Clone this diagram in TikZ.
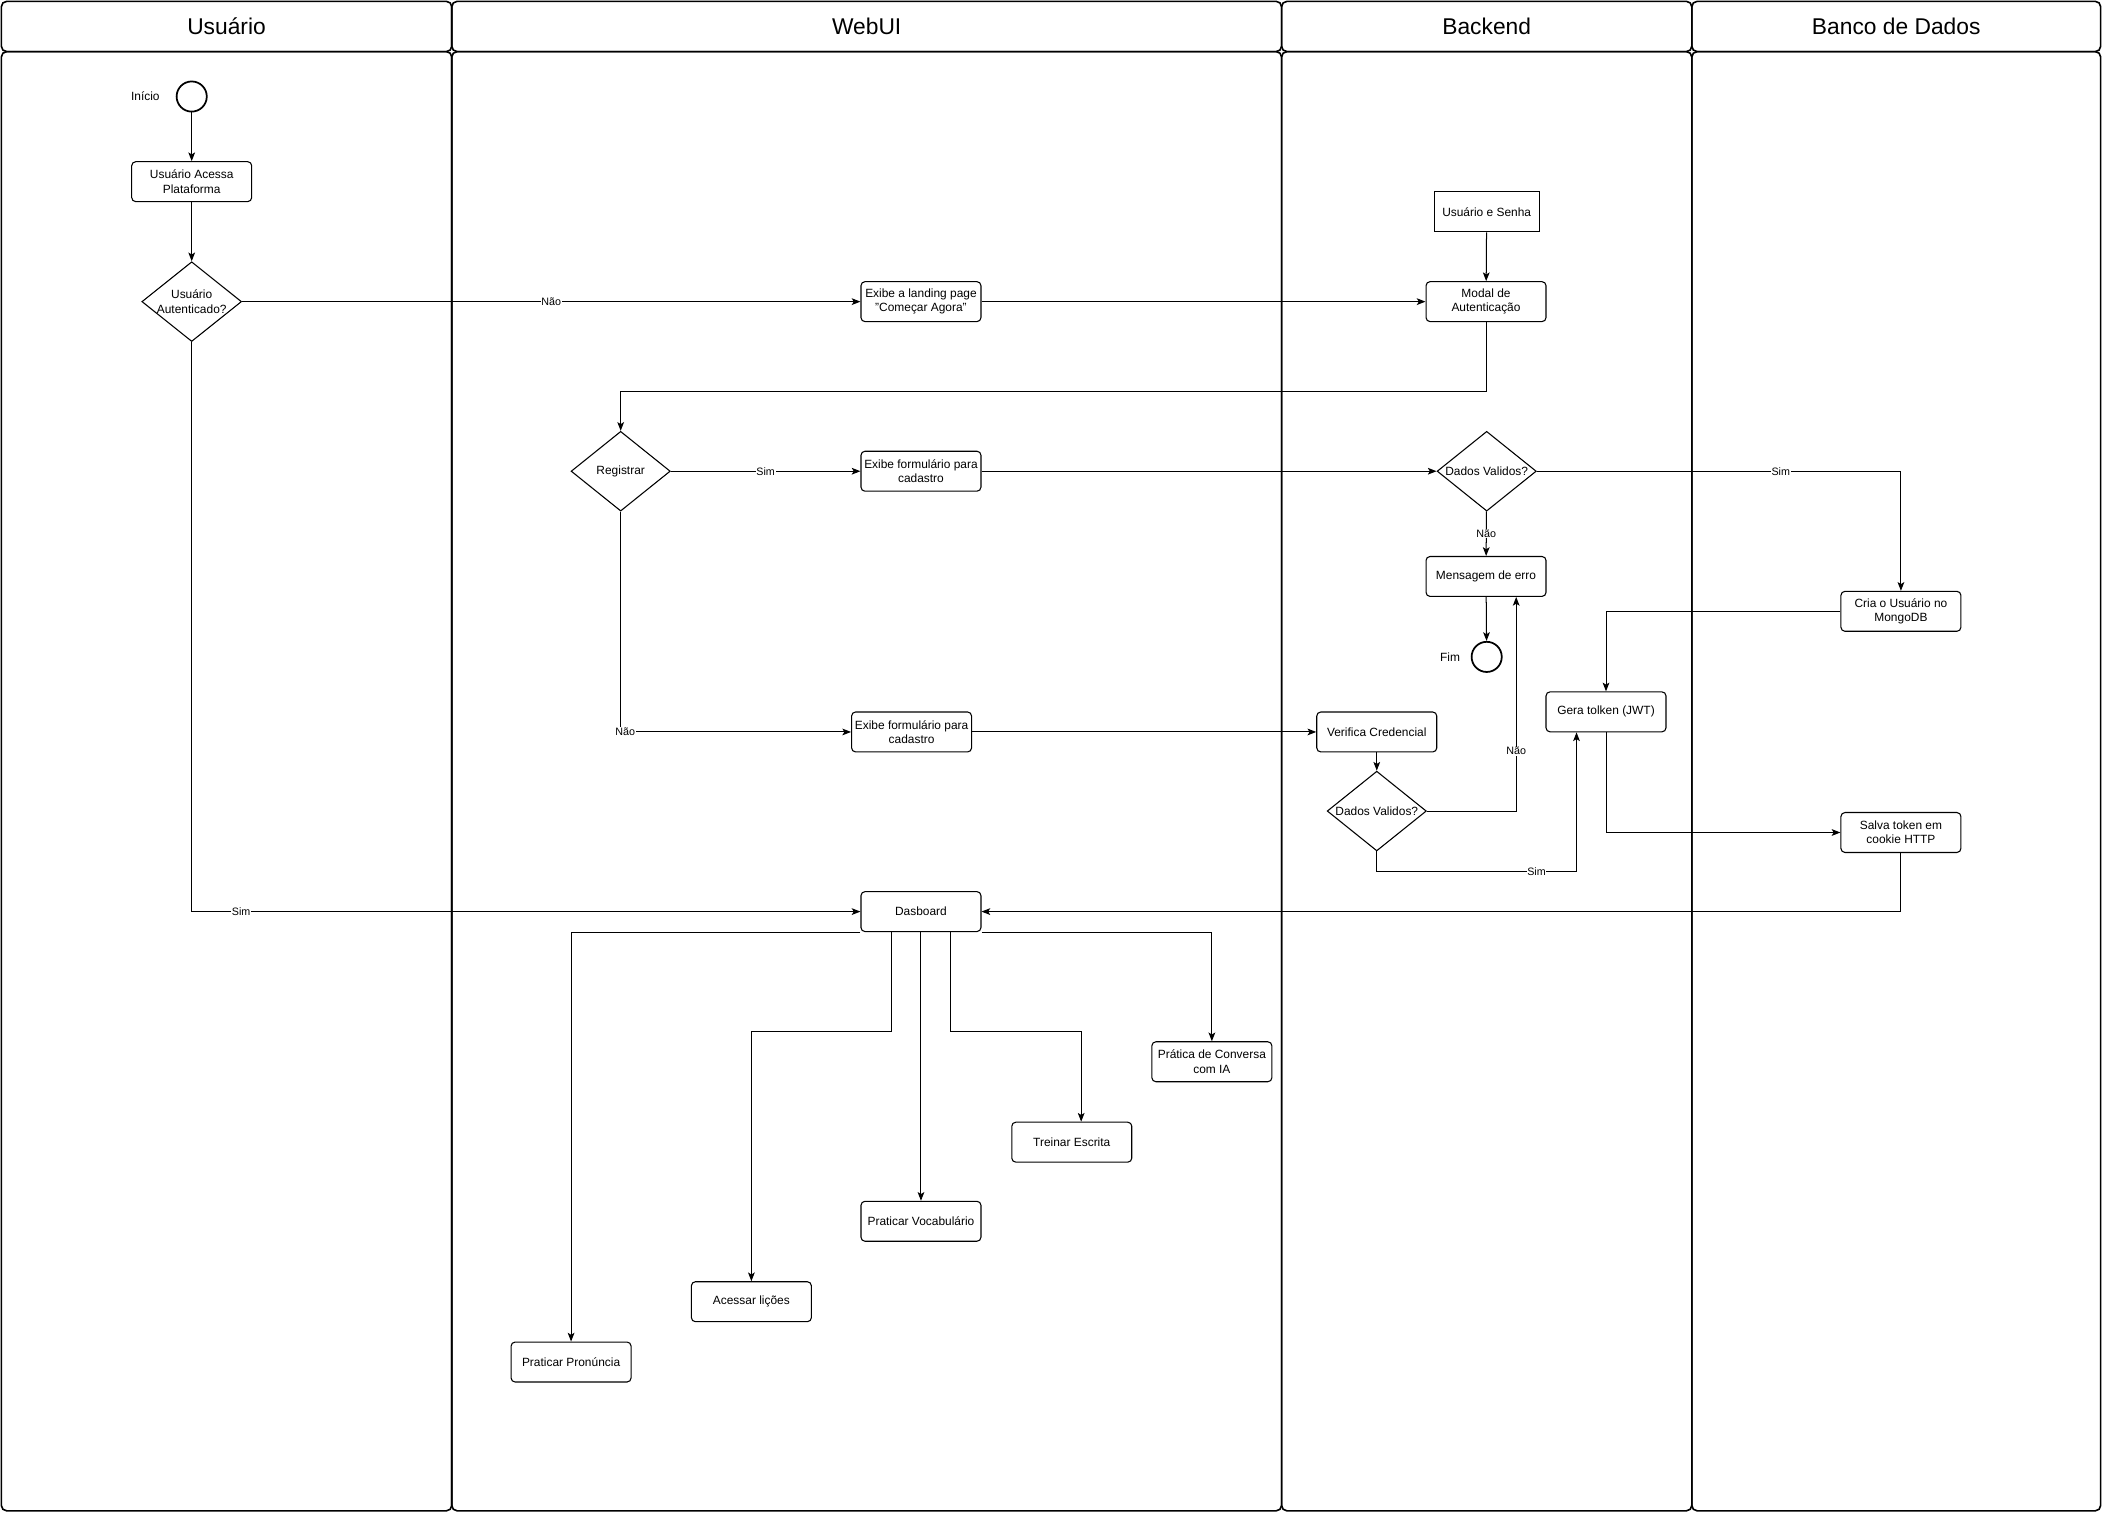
\documentclass[tikz,border=0pt]{standalone}
\usepackage{fontspec}
\setmainfont{Liberation Sans}
\usetikzlibrary{arrows.meta,positioning,shapes.geometric}

\begin{document}
\begin{tikzpicture}[
  x=1pt, y=-1pt,
  every node/.style={font=\fontsize{8.9}{10.6}\selectfont},
  act/.style={draw, rounded corners=3pt, align=center, minimum width=89.5pt,
    minimum height=29.8pt, inner sep=1pt, line width=0.8pt},
  datum/.style={act, rounded corners=0pt, minimum width=78.5pt},
  dec/.style={draw, diamond, aspect=1.3, inner sep=0pt, align=center,
    minimum width=74pt, minimum height=59.5pt, line width=0.8pt},
  ev/.style={draw, circle, minimum size=22.5pt, inner sep=0pt, line width=1.3pt},
  lanehead/.style={draw, rounded corners=4pt, line width=1.2pt,
    minimum height=37.5pt, font=\fontsize{17}{20}\selectfont},
  lanebody/.style={draw, rounded corners=4pt, line width=1.2pt, minimum height=1088.5pt},
  arr/.style={-{Stealth[length=6.5pt,width=5pt,inset=1.5pt]}, line width=0.75pt},
  lbl/.style={font=\fontsize{8}{9}\selectfont, fill=white, inner sep=0.5pt}
]
\fill[white] (0,0) rectangle (1568,1128);
\useasboundingbox (0,0) rectangle (1568,1128);

% lanes
\node[lanehead, minimum width=336pt] (hUsuario) at (169,19.75) {Usuário};
\node[lanebody, minimum width=336pt] (bUsuario) at (169,582.75) {};
\node[lanehead, minimum width=619pt] (hWeb) at (646.5,19.75) {WebUI};
\node[lanebody, minimum width=619pt] (bWeb) at (646.5,582.75) {};
\node[lanehead, minimum width=306pt] (hBack) at (1109,19.75) {Backend};
\node[lanebody, minimum width=306pt] (bBack) at (1109,582.75) {};
\node[lanehead, minimum width=305pt] (hBanco) at (1414.5,19.75) {Banco de Dados};
\node[lanebody, minimum width=305pt] (bBanco) at (1414.5,582.75) {};

% Usuario
\node[ev, label={[label distance=8.5pt]left:Início}] (inicio) at (143,72) {};
\node[act] (acessa) at (143,135.5) {Usuário Acessa\\Plataforma};
\node[dec] (autent) at (143,225) {Usuário\\Autenticado?};

% WebUI
\node[act] (landing) at (687,225) {Exibe a landing page\\"Começar Agora"};
\node[dec] (registrar) at (463,351.5) {Registrar};
\node[act] (form1) at (687,351.5) {Exibe formulário para\\cadastro};
\node[act] (form2) at (680,546) {Exibe formulário para\\cadastro};
\node[act] (dash) at (687,680) {Dasboard};
\node[act] (pcia) at (904,792) {Prática de Conversa\\com IA};
\node[act] (escrita) at (799.5,852) {Treinar Escrita};
\node[act] (vocab) at (687,911) {Praticar Vocabulário};
\node[act] (licoes) at (560.5,971) {Acessar lições};
\node[act] (pronuncia) at (426,1016) {Praticar Pronúncia};

% Backend
\node[datum] (usenha) at (1109,158) {Usuário e Senha};
\node[act] (modal) at (1108.5,225) {Modal de\\Autenticação};
\node[dec] (dadosA) at (1109,351.5) {Dados Validos?};
\node[act] (erro) at (1108.5,430) {Mensagem de erro};
\node[ev, label={[label distance=4.5pt]left:Fim}] (fim) at (1109,490) {};
\node[act] (gera) at (1198,531) {Gera tolken (JWT)};
\node[act] (verifica) at (1027,546) {Verifica Credencial};
\node[dec] (dadosB) at (1027,605) {Dados Validos?};

% Banco de Dados
\node[act] (criausr) at (1418,456) {Cria o Usuário no\\MongoDB};
\node[act] (salva) at (1418,621) {Salva token em\\cookie HTTP};

\draw[arr] (inicio) -- (acessa);
\draw[arr] (acessa) -- (autent);
\draw[arr] (autent) -- (landing) node[lbl, midway] {Não};
\draw[arr] (autent) |- (dash) node[lbl, pos=0.537] {Sim};
\draw[arr] (landing) -- (modal);
\draw[arr] (usenha) -- (modal);
\draw[arr] (modal.south) -- ++(0,52) -| (registrar.north);
\draw[arr] (registrar) -- (form1) node[lbl, midway] {Sim};
\draw[arr] (registrar) |- (form2) node[lbl, pos=0.51] {Não};
\draw[arr] (form1) -- (dadosA);
\draw[arr] (dadosA) -| (criausr) node[lbl, pos=0.335] {Sim};
\draw[arr] (dadosA) -- (erro) node[lbl, midway] {Não};
\draw[arr] (erro) -- (fim);
\draw[arr] (form2) -- (verifica);
\draw[arr] (verifica) -- (dadosB);
\draw[arr] (dadosB.east) -| ([xshift=22.5pt]erro.south) node[lbl, pos=0.64] {Não};
\draw[arr] (dadosB.south) -- ++(0,15) -| ([xshift=-22pt]gera.south)
  node[lbl, pos=0.4] {Sim};
\draw[arr] (criausr) -| (gera);
\draw[arr] (gera) |- (salva);
\draw[arr] (salva) |- (dash);

\draw[arr] (dash.south west) -| (pronuncia);
\draw[arr] ([xshift=-22pt]dash.south) -- ++(0,74) -| (licoes.north);
\draw[arr] (dash) -- (vocab);
\draw[arr] ([xshift=22pt]dash.south) -- ++(0,74) -| ([xshift=7pt]escrita.north);
\draw[arr] (dash.south east) -| (pcia);
\end{tikzpicture}
\end{document}
